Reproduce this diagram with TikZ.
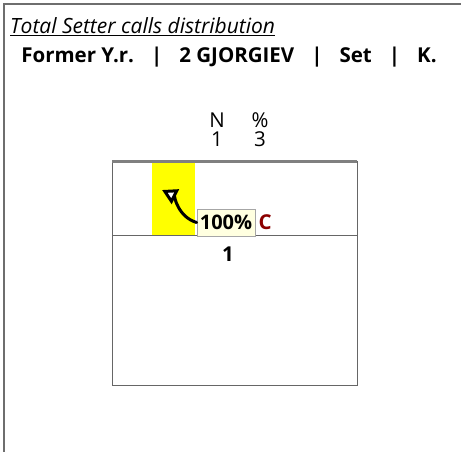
\documentclass[tikz,border=0pt]{standalone}
\usepackage{fontspec}
\setmainfont{Open Sans}
\usetikzlibrary{arrows.meta, positioning}

\definecolor{barYellow}{HTML}{FFFF00}
\definecolor{tagFill}{HTML}{FFFFE0}
\definecolor{callRed}{HTML}{8B0000}
\definecolor{frameGray}{HTML}{6E6E6E}

\newcommand{\sepbar}{\hspace{17pt}|\hspace{17pt}}

\begin{document}
\begin{tikzpicture}[x=1pt,y=-1pt,
  txt/.style={inner sep=0pt,font=\fontsize{20.5}{24}\selectfont},
  hdr/.style={inner sep=0pt,font=\fontsize{20.5}{24}\selectfont\bfseries},
  tag/.style={rectangle,draw=gray!70,fill=tagFill,line width=0.8pt,minimum width=58pt,minimum height=27pt,inner sep=0pt,font=\fontsize{20}{24}\selectfont\bfseries},
  callarrow/.style={-{Triangle[length=15pt,width=16pt,fill=white]},line width=3pt,line cap=round}
]
  \useasboundingbox (0,0) rectangle (461,452);
  % outer frame (left and top only)
  \draw[frameGray,line width=1.5pt] (4,452) -- (4,4) -- (461,4);

  \node[txt,anchor=base west,font=\fontsize{21}{24}\selectfont\itshape](title) at (10,34) {\underline{Total Setter calls distribution}};
  \node[hdr,anchor=base](team) at (229,63) {Former Y.r.\sepbar 2 GJORGIEV\sepbar Set\sepbar K.};

  % column heads
  \node[txt](nHead) at (217,120) {N};
  \node[txt](pHead) at (260,120) {\%};
  \node[txt](nVal)  at (217,139) {1};
  \node[txt](pVal)  at (260,139) {3};

  % court
  \fill[barYellow] (152,161) rectangle (195,235);
  \draw[gray!80!black,line width=0.9pt] (112,161) rectangle (357,385);
  \draw[gray!80!black,line width=0.9pt] (112,235) -- (357,235);
  \draw[gray,line width=3pt] (112,161) -- (357,161);
  \node[hdr](zone) at (228,254) {1};

  \node[tag](pct) at (226,222.5) {100\%};
  \node[hdr,text=callRed,right=3pt of pct](call) {C};
  \coordinate (tip) at (162,190);
  \draw[callarrow] (pct.west) .. controls (178,217) and (174,196) .. (tip);
\end{tikzpicture}
\end{document}
